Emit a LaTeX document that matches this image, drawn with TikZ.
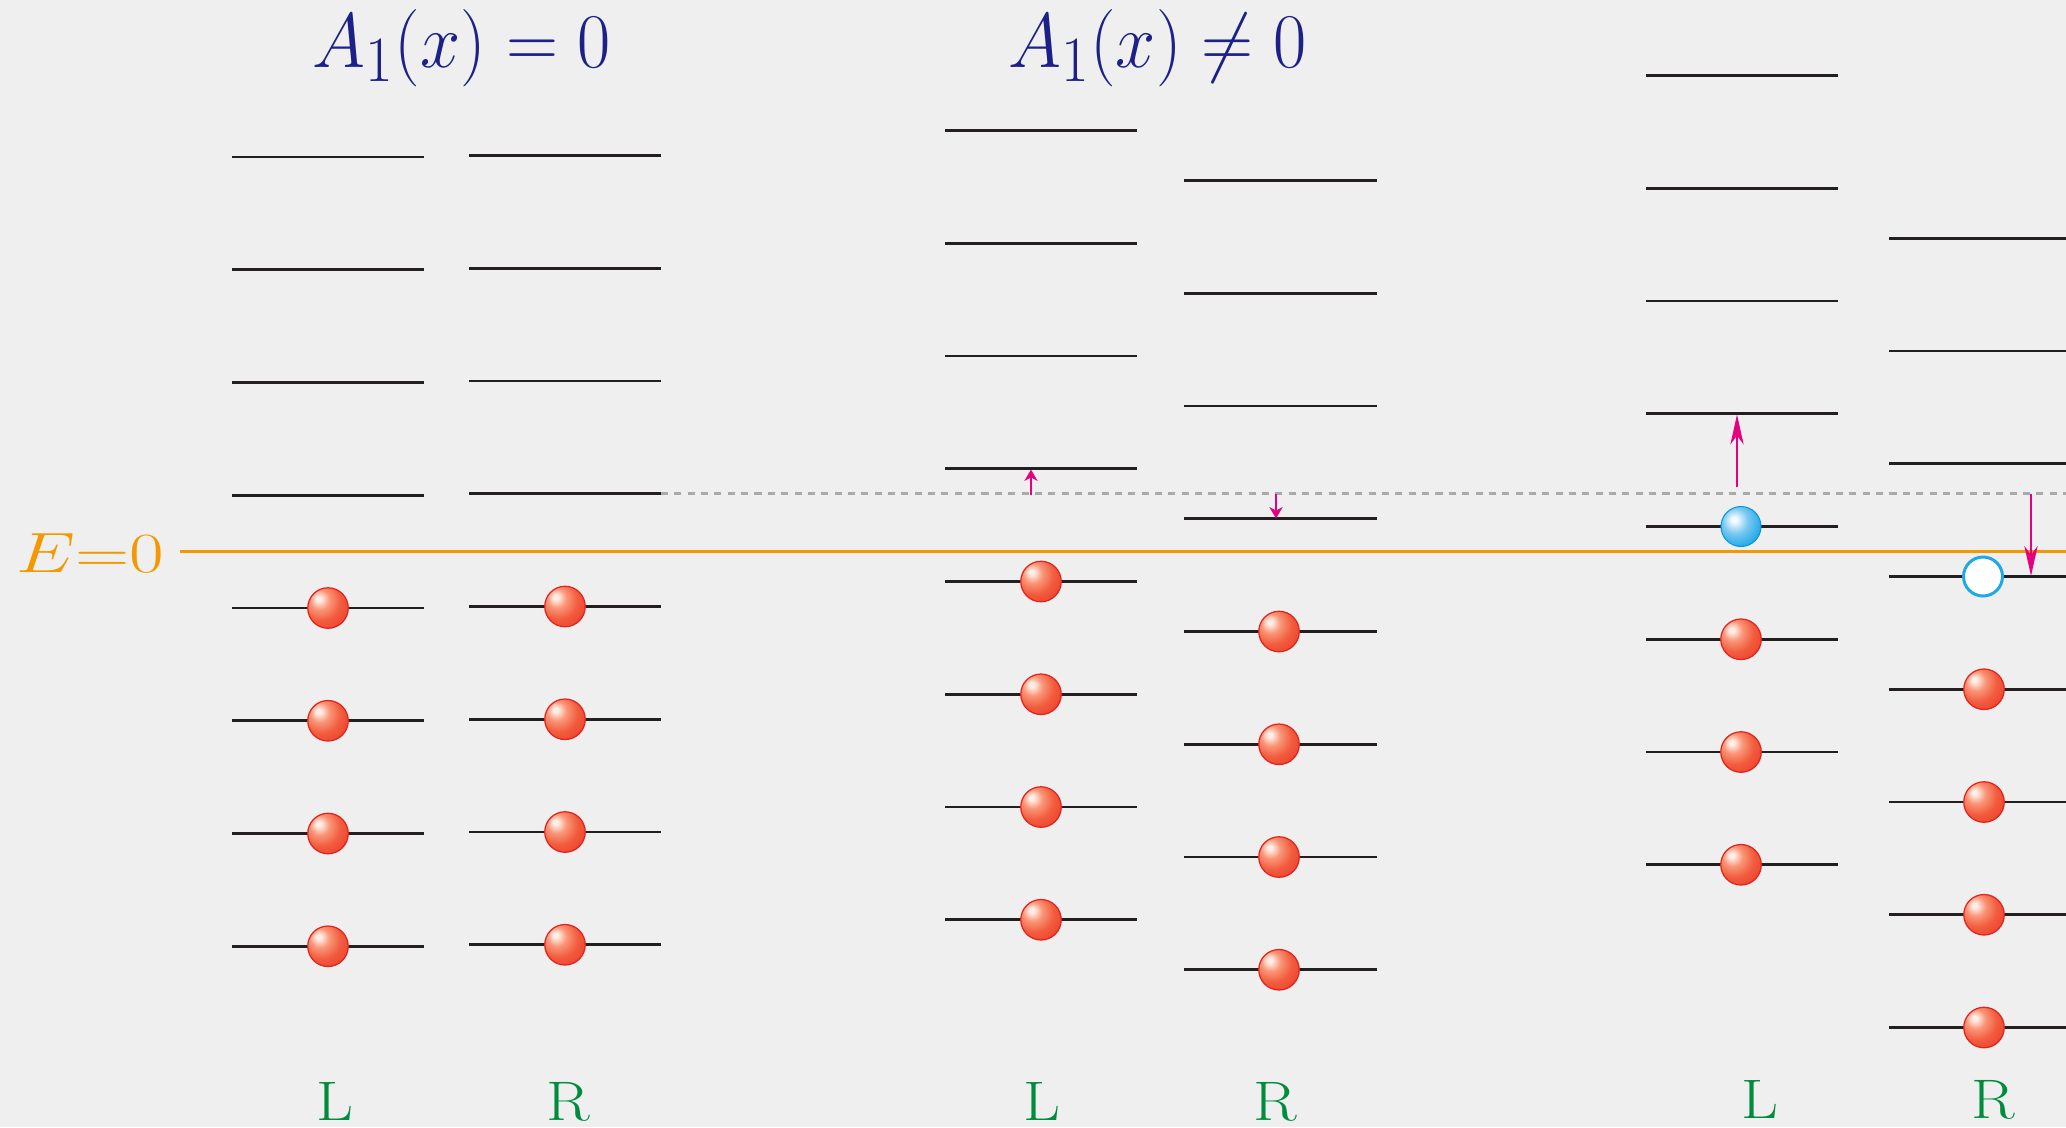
\documentclass[tikz,border=0pt]{standalone}
\usetikzlibrary{arrows.meta}
\definecolor{bgc}{RGB}{239,239,239}
\definecolor{lvlc}{RGB}{35,31,32}
\definecolor{ezero}{RGB}{243,152,0}
\definecolor{dashg}{RGB}{170,170,170}
\definecolor{mag}{RGB}{228,0,127}
\definecolor{ttl}{RGB}{29,32,136}
\definecolor{lrg}{RGB}{0,140,60}
\definecolor{rbA}{RGB}{255,238,230}
\definecolor{rbB}{RGB}{250,150,120}
\definecolor{rbC}{RGB}{242,92,62}
\definecolor{rbD}{RGB}{234,55,40}
\definecolor{rbE}{RGB}{224,35,28}
\definecolor{bbA}{RGB}{245,252,255}
\definecolor{bbB}{RGB}{120,200,242}
\definecolor{bbC}{RGB}{30,168,230}
\definecolor{bbD}{RGB}{10,150,220}
\pgfdeclareradialshading{redball}{\pgfpoint{-12bp}{12bp}}{color(0bp)=(rbA); color(3bp)=(rbA); color(12bp)=(rbB); color(24bp)=(rbC); color(42bp)=(rbD); color(60bp)=(rbE); color(80bp)=(rbE)}
\pgfdeclareradialshading{blueball}{\pgfpoint{-9bp}{9bp}}{color(0bp)=(bbA); color(3bp)=(bbA); color(16bp)=(bbB); color(32bp)=(bbC); color(50bp)=(bbD); color(80bp)=(bbD)}
\tikzset{
  lvl/.style={draw=lvlc, line width=1.5pt},
  ezl/.style={draw=ezero, line width=1.7pt},
  dashln/.style={draw=dashg, line width=1.8pt, dash pattern=on 4pt off 3.6pt},
  rball/.style={circle, inner sep=0pt, minimum size=0.81cm, shade, shading=redball, draw=rbE, line width=0.7pt},
  bball/.style={circle, inner sep=0pt, minimum size=0.80cm, shade, shading=blueball, draw=bbD, line width=0.6pt},
  hole/.style={circle, inner sep=0pt, minimum size=0.78cm, fill=white, draw=bbC, line width=1.7pt},
  smallar/.style={draw=mag, line width=1.4pt, -{Stealth[length=6.5pt,width=7.5pt,inset=2pt]}},
  bigar/.style={draw=mag, line width=1.6pt, -{Stealth[length=17pt,width=7.5pt,inset=5pt]}},
  ttlnode/.style={text=ttl, inner sep=0pt, anchor=base, font=\Huge},
  lrnode/.style={text=lrg, inner sep=0pt, anchor=base, text depth=0pt, font=\fontsize{31.7}{36}\selectfont},
}
\begin{document}
\begin{tikzpicture}[x=0.02cm, y=-0.02cm]
\fill[bgc] (0,0) rectangle (2066,1127);
\useasboundingbox (0,0) rectangle (2066,1127);
\clip (0,0) rectangle (2066,1127);

% reference lines
\draw[dashln] (661,493.5) -- (2066,493.5);
\draw[ezl] (180,551.5) -- (2066,551.5);
\node[text=ezero, inner sep=0pt, anchor=base west, font=\Huge] (ez) at (16,572) {\scalebox{1.72}[1.30]{$E{=}0$}};

% titles
\node[ttlnode] (t1) at (462,67) {\scalebox{1.65}[1.77]{$A_1(x) = 0$}};
\node[ttlnode] (t2) at (1157.5,67) {\scalebox{1.65}[1.77]{$A_1(x) \neq 0$}};

% panel 1 L
\foreach \k in {0,...,7} \draw[lvl] (232,{157+\k*112.75}) -- (424,{157+\k*112.75});
\foreach \k in {4,...,7} \node[rball] (p1l-\k) at (328,{157+\k*112.75}) {};
% panel 1 R
\foreach \k in {0,...,7} \draw[lvl] (469,{155.5+\k*112.75}) -- (661,{155.5+\k*112.75});
\foreach \k in {4,...,7} \node[rball] (p1r-\k) at (565,{155.5+\k*112.75}) {};
% panel 2 L
\foreach \k in {0,...,7} \draw[lvl] (945,{130.5+\k*112.75}) -- (1137,{130.5+\k*112.75});
\foreach \k in {4,...,7} \node[rball] (p2l-\k) at (1041,{130.5+\k*112.75}) {};
% panel 2 R
\foreach \k in {0,...,7} \draw[lvl] (1184,{180.5+\k*112.75}) -- (1377,{180.5+\k*112.75});
\foreach \k in {4,...,7} \node[rball] (p2r-\k) at (1279,{180.5+\k*112.75}) {};
% panel 3 L
\foreach \k in {0,...,7} \draw[lvl] (1646,{75.5+\k*112.75}) -- (1838,{75.5+\k*112.75});
\node[bball] (p3l-4) at (1741,{75.5+4*112.75}) {};
\foreach \k in {5,...,7} \node[rball] (p3l-\k) at (1741,{75.5+\k*112.75}) {};
% panel 3 R
\foreach \k in {0,...,7} \draw[lvl] (1889,{238.25+\k*112.75}) -- (2081,{238.25+\k*112.75});
\node[hole] (p3r-3) at (1983,{238.25+3*112.75}) {};
\foreach \k in {4,...,7} \node[rball] (p3r-\k) at (1984,{238.25+\k*112.75}) {};

% shifts
\coordinate (s2l) at (1031,495);
\coordinate (e2l) at (1031,469.5);
\coordinate (s2r) at (1276,494);
\coordinate (e2r) at (1276,518.5);
\coordinate (s3l) at (1737,487);
\coordinate (e3l) at (1737,414.5);
\coordinate (s3r) at (2031,494);
\coordinate (e3r) at (2031,576);
\draw[smallar] (s2l) -- (e2l);
\draw[smallar] (s2r) -- (e2r);
\draw[bigar] (s3l) -- (e3l);
\draw[bigar] (s3r) -- (e3r);

% L / R labels
\node[lrnode] (l1) at (335,1120) {\scalebox{1.15}[1]{L}};
\node[lrnode] (r1) at (568,1120) {\scalebox{1.15}[1]{R}};
\node[lrnode] (l2) at (1042,1120) {\scalebox{1.15}[1]{L}};
\node[lrnode] (r2) at (1275,1120) {\scalebox{1.15}[1]{R}};
\node[lrnode] (l3) at (1760,1118) {\scalebox{1.15}[1]{L}};
\node[lrnode] (r3) at (1993,1118) {\scalebox{1.15}[1]{R}};
\end{tikzpicture}
\end{document}
